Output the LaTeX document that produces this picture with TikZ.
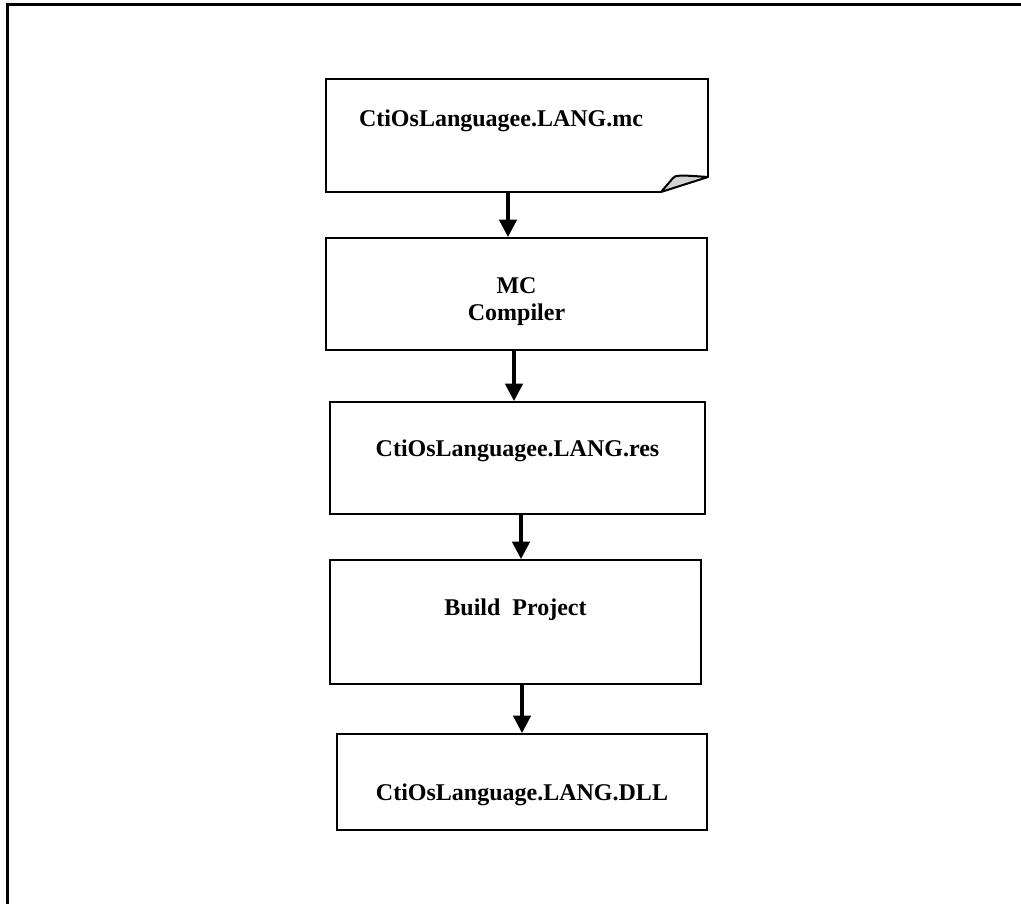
\documentclass[tikz,border=0pt]{standalone}
\usepackage{fontspec}
\setmainfont{Liberation Serif}
\usetikzlibrary{arrows.meta,calc}
\tikzset{
  procbox/.style={draw=black, line width=1.5pt, align=center, inner sep=0pt,
    font=\bfseries\fontsize{18}{20.25}\selectfont},
  flow/.style={line width=2.5pt, -{Triangle[width=13pt,length=13pt]}},
  frame/.style={line width=2.25pt}
}
\begin{document}
\begin{tikzpicture}[x=0.75pt,y=-0.75pt]
    \useasboundingbox (0,0) rectangle (1021,904);
    \draw[frame] (7,904) -- (7,4) -- (1021,4);

    \node[procbox, draw=none, minimum width=285pt, minimum height=83.25pt,
      text width=237pt, align=left, text height=12pt, text depth=24.8pt] (src) at (517,135.5) {CtiOsLanguagee.LANG.mc};
    \node[procbox, minimum width=285.75pt, minimum height=84pt,
      text height=43pt, text depth=4pt] (mcc) at (516.5,294) {MC\\Compiler};
    \node[procbox, minimum width=281.25pt, minimum height=84pt,
      text height=12pt, text depth=15pt] (res) at (517.5,458) {CtiOsLanguagee.LANG.res};
    \node[procbox, minimum width=278.25pt, minimum height=93pt,
      text height=12pt, text depth=22.5pt] (build) at (515.5,622) {Build~~Project};
    \node[procbox, minimum width=277.5pt, minimum height=72pt,
      text height=31pt, text depth=4pt] (dll) at (522,782) {CtiOsLanguage.LANG.DLL};

    % document outline with folded corner
    \coordinate (fa) at ($(src.south east)+(0,-15)$);
    \coordinate (fb) at ($(src.south east)+(-47,0)$);
    \filldraw[fill=gray!35, line width=1.5pt, line join=round]
      (fb) -- (fa) .. controls ($(fa)+(-27,-2)$) and ($(fa)+(-33,-2)$) .. ($(fa)+(-35,1)$) -- cycle;
    \draw[line width=1.5pt, line join=miter]
      (fb) -- (src.south west) -- (src.north west) -- (src.north east) -- (fa);

    % arrow start points
    \coordinate (s1) at ($(src.south)+(-9,0)$);
    \coordinate (s2) at ($(mcc.south)+(-2.5,0)$);
    \coordinate (s3) at ($(res.south)+(3.5,0)$);
    \coordinate (s4) at ($(build.south)+(6.5,0)$);

    \draw[flow] (s1) -- (s1 |- mcc.north);
    \draw[flow] (s2) -- (s2 |- res.north);
    \draw[flow] (s3) -- (s3 |- build.north);
    \draw[flow] (s4) -- (s4 |- dll.north);
\end{tikzpicture}
\end{document}
